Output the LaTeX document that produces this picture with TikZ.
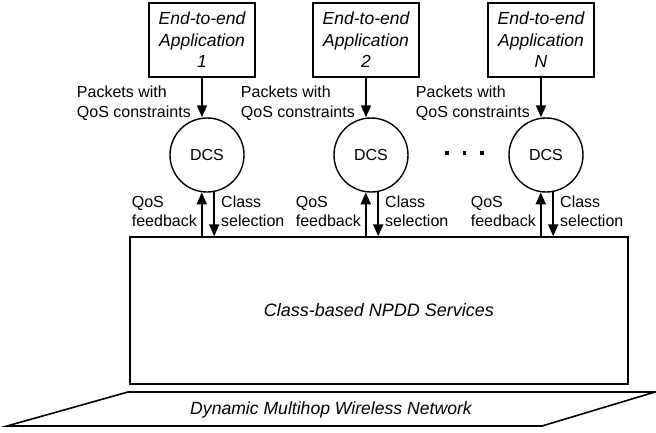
\documentclass[tikz,border=0pt]{standalone}
\usepackage{fontspec}
\setmainfont{Liberation Sans}
\usetikzlibrary{arrows.meta}
\usetikzlibrary{calc}

\tikzset{
  appbox/.style={draw, line width=1.4pt, minimum width=106pt, minimum height=74pt,
    align=center, inner sep=0pt, font=\fontsize{17.5}{21.5}\selectfont\itshape},
  dcsnode/.style={draw, circle, line width=1.4pt, minimum size=74pt, inner sep=0pt,
    font=\fontsize{16}{20}\selectfont},
  lbl/.style={align=left, inner sep=0pt, font=\fontsize{16}{20}\selectfont},
  lbllow/.style={align=left, inner sep=0pt, font=\fontsize{16}{19}\selectfont},
  flow/.style={-{Triangle[length=12pt,width=10pt]}, line width=1.8pt},
}

\begin{document}
\begin{tikzpicture}[x=1pt,y=-1pt]
      \useasboundingbox (0,0) rectangle (656,432);
      % applications
      \node[appbox] (app1) at (202,40) {End-to-end\\Application\\1};
      \node[appbox] (app2) at (366,40) {End-to-end\\Application\\2};
      \node[appbox] (appn) at (541,40) {End-to-end\\Application\\N};
      % dcs
      \node[dcsnode] (dcs1) at (207,155) {DCS};
      \node[dcsnode] (dcs2) at (371,155) {DCS};
      \node[dcsnode] (dcsn) at (546,155) {DCS};
      \foreach \x in {447,464.5,482}
        \fill (\x-1.7,151.3) rectangle +(3.4,3.4);
      % services and network
      \node[draw, line width=1.4pt, minimum width=498pt, minimum height=147pt,
        font=\fontsize{18}{22}\selectfont\itshape] (npdd) at (379,310.5) {Class-based NPDD Services};
      \draw[line width=1.6pt] (128,392) -- (655,392) -- (542,426) -- (7,426) -- cycle;
      \node[font=\fontsize{17.6}{22}\selectfont\itshape] (net) at (331,410) {Dynamic Multihop Wireless Network};
      % labels
      \node[lbl, anchor=east] (pkt1) at (191,103) {Packets with\\QoS constraints};
      \node[lbl, anchor=east] (pkt2) at (355,103) {Packets with\\QoS constraints};
      \node[lbl, anchor=east] (pktn) at (530,103) {Packets with\\QoS constraints};
      \node[lbllow, anchor=east] (fb1) at (197,211) {QoS\\feedback};
      \node[lbllow, anchor=east] (fb2) at (361,211) {QoS\\feedback};
      \node[lbllow, anchor=east] (fbn) at (536,211) {QoS\\feedback};
      \node[lbllow, anchor=west] (cs1) at (221,211) {Class\\selection};
      \node[lbllow, anchor=west] (cs2) at (385,211) {Class\\selection};
      \node[lbllow, anchor=west] (csn) at (560,211) {Class\\selection};
      % arrows
      \draw[flow] (app1) -- (app1 |- dcs1.north);
      \draw[flow] (app2) -- (app2 |- dcs2.north);
      \draw[flow] (appn) -- (appn |- dcsn.north);
      \draw[flow] (dcs1.-98 |- npdd.north) -- (dcs1.-98);
      \draw[flow] (dcs2.-98 |- npdd.north) -- (dcs2.-98);
      \draw[flow] (dcsn.-98 |- npdd.north) -- (dcsn.-98);
      \draw[flow] (dcs1.-79) -- (dcs1.-79 |- npdd.north);
      \draw[flow] (dcs2.-79) -- (dcs2.-79 |- npdd.north);
      \draw[flow] (dcsn.-79) -- (dcsn.-79 |- npdd.north);
    \end{tikzpicture}
\end{document}
